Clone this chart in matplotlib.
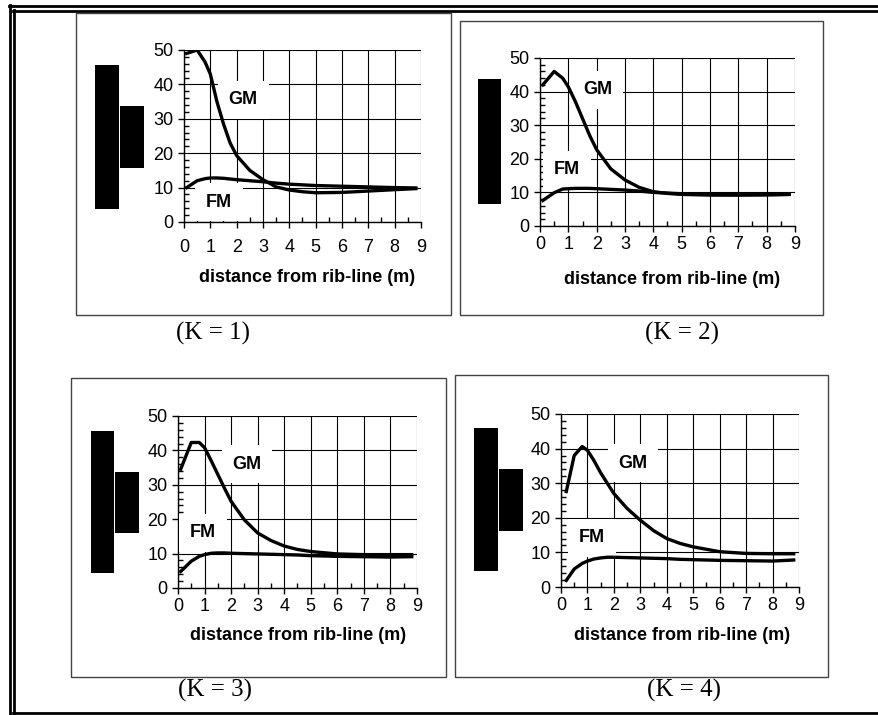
import matplotlib
matplotlib.use("Agg")
import matplotlib.pyplot as plt
from matplotlib.patches import Rectangle
from matplotlib.lines import Line2D
from matplotlib.ticker import MultipleLocator

plt.rcParams["font.family"] = ["Liberation Sans", "DejaVu Sans"]

W, H = 879, 715

# distance from rib-line (m)
dist = [0.1, 0.5, 0.8, 1.0, 1.25, 1.5, 1.75, 2.0, 2.5, 3.0, 3.5, 4.0, 4.5, 5.0, 6.0, 7.0, 8.0, 8.8]
dist_k4 = [0.2, 0.5, 0.8, 1.0, 1.25, 1.5, 1.75, 2.0, 2.5, 3.0, 3.5, 4.0, 4.5, 5.0, 6.0, 7.0, 8.0, 8.8]

gm_k1 = [49, 50, 46.5, 43, 35, 28.5, 23, 19.3, 15, 12.3, 10.2, 9.3, 8.8, 8.5, 8.6, 9.0, 9.4, 9.7]
fm_k1 = [10, 12, 12.6, 12.8, 12.8, 12.7, 12.5, 12.3, 12.0, 11.7, 11.3, 11.0, 10.8, 10.6, 10.4, 10.2, 10.0, 9.9]

gm_k2 = [42, 46, 44, 41.4, 37, 32, 27, 22.7, 17, 13.7, 11.5, 10.2, 9.7, 9.4, 9.2, 9.2, 9.3, 9.4]
fm_k2 = [7.6, 9.9, 11, 11.1, 11.2, 11.2, 11.2, 11.1, 10.9, 10.7, 10.4, 10.0, 9.8, 9.6, 9.4, 9.3, 9.3, 9.4]

gm_k3 = [34.5, 42.3, 42.3, 40.8, 37, 33, 29, 25.2, 19.8, 16, 13.8, 12.2, 11.2, 10.6, 9.9, 9.7, 9.7, 9.7]
fm_k3 = [4.8, 7.8, 9.2, 9.7, 10.1, 10.2, 10.2, 10.1, 10.0, 9.9, 9.8, 9.7, 9.6, 9.4, 9.2, 9.1, 9.0, 9.1]

gm_k4 = [27.6, 38, 40.6, 39.5, 36.5, 33, 30, 27, 22.7, 19.3, 16.3, 14.0, 12.6, 11.6, 10.2, 9.7, 9.6, 9.6]
fm_k4 = [1.9, 5.2, 6.8, 7.5, 8.1, 8.4, 8.6, 8.6, 8.5, 8.4, 8.3, 8.2, 8.0, 7.9, 7.7, 7.6, 7.5, 7.8]

k_labels = ["(K = 1)", "(K = 2)", "(K = 3)", "(K = 4)"]


def px_rect(x0, y0, x1, y1):
    """Pixel box (top-left origin) -> figure fraction [l, b, w, h]."""
    return [x0 / W, 1 - y1 / H, (x1 - x0) / W, (y1 - y0) / H]


def fig_box(fig, x0, y0, x1, y1, **kw):
    l, b, w, h = px_rect(x0, y0, x1, y1)
    fig.patches.append(Rectangle((l, b), w, h, transform=fig.transFigure, **kw))


def fig_hline(fig, x0, x1, y, lw):
    fig.lines.append(Line2D([x0 / W, x1 / W], [1 - y / H, 1 - y / H],
                            transform=fig.transFigure, color="black", lw=lw))


def fig_vline(fig, x, y0, y1, lw):
    fig.lines.append(Line2D([x / W, x / W], [1 - y0 / H, 1 - y1 / H],
                            transform=fig.transFigure, color="black", lw=lw))


panels = [
    dict(x=dist, gm=gm_k1, fm=fm_k1, ax=(184, 50, 421, 222), box=(76, 13, 451, 315),
         gm_at=(2.25, 35.5), fm_at=(1.33, 5.8), xpad=8.0, xlab=(307, 277), klab=(213, 333),
         blocks=[(95, 65, 119, 209), (120, 106, 144, 168)]),
    dict(x=dist, gm=gm_k2, fm=fm_k2, ax=(540, 58, 795, 226), box=(460, 21, 823, 315),
         gm_at=(2.05, 40.5), fm_at=(0.95, 16.7), xpad=2.5, xlab=(672, 279), klab=(682, 333),
         blocks=[(478, 79, 501, 204)]),
    dict(x=dist, gm=gm_k3, fm=fm_k3, ax=(178, 416, 417, 588), box=(71, 378, 446, 677),
         gm_at=(2.6, 36.0), fm_at=(0.94, 16.0), xpad=2.5, xlab=(298, 636), klab=(215, 690),
         blocks=[(91, 431, 114, 573), (115, 472, 139, 533)]),
    dict(x=dist_k4, gm=gm_k4, fm=fm_k4, ax=(561, 414, 799, 587), box=(455, 375, 828, 677),
         gm_at=(2.72, 35.8), fm_at=(1.17, 14.2), xpad=2.5, xlab=(682, 636), klab=(684, 690),
         blocks=[(474, 428, 498, 571), (499, 469, 523, 531)]),
]

fig = plt.figure(figsize=(W / 100, H / 100), dpi=100)

# double outer frame, open on the right
fig_hline(fig, 9, W, 6, 2.0)
fig_hline(fig, 13, W, 10.5, 2.0)
fig_vline(fig, 10, 5, H, 2.0)
fig_vline(fig, 14, 9.5, 713, 2.0)
fig_hline(fig, 13, W, 713, 2.0)

for p, klab in zip(panels, k_labels):
    bx0, by0, bx1, by1 = p["box"]
    fig_box(fig, bx0, by0, bx1, by1, fill=False, edgecolor="#444444", lw=1.0, zorder=0)
    for blk in p["blocks"]:
        fig_box(fig, *blk, facecolor="black", edgecolor="none", zorder=1)

    ax = fig.add_axes(px_rect(*p["ax"]))
    ax.set_xlim(0, 9)
    ax.set_ylim(0, 50)
    ax.xaxis.set_major_locator(MultipleLocator(1))
    ax.xaxis.set_minor_locator(MultipleLocator(0.5))
    ax.yaxis.set_major_locator(MultipleLocator(10))
    ax.yaxis.set_minor_locator(MultipleLocator(2))
    ax.grid(True, which="major", color="black", lw=0.8)
    for side in ["top", "right"]:
        ax.spines[side].set_visible(False)
    for side in ["left", "bottom"]:
        ax.spines[side].set_linewidth(1.0)
    ax.tick_params(axis="both", which="major", labelsize=13, width=1.0, length=4.5,
                   direction="out", colors="black")
    ax.tick_params(axis="x", which="major", pad=p["xpad"])
    ax.tick_params(axis="y", which="major", pad=3)
    ax.tick_params(axis="both", which="minor", direction="in", length=3.5, width=1.0)

    # curves sit above the white label boxes; the boxes only hide grid and axis lines
    ax.plot(p["x"], p["gm"], color="black", lw=2.4, solid_joinstyle="round", zorder=7)
    ax.plot(p["x"], p["fm"], color="black", lw=2.4, solid_joinstyle="round", zorder=7)

    box = dict(boxstyle="square,pad=0.6", facecolor="white", edgecolor="none")
    ax.text(*p["gm_at"], "GM", fontsize=13, fontweight="bold", ha="center", va="center",
            bbox=box, zorder=5, clip_on=False)
    ax.text(*p["fm_at"], "FM", fontsize=13, fontweight="bold", ha="center", va="center",
            bbox=box, zorder=5, clip_on=False)

    lx, ly = p["xlab"]
    fig.text(lx / W, 1 - ly / H, "distance from rib-line (m)", fontsize=13, fontweight="bold",
             ha="center", va="center")
    kx, ky = p["klab"]
    fig.text(kx / W, 1 - ky / H, klab, fontsize=18, family="Liberation Serif",
             ha="center", va="center")

fig.savefig("out.png", dpi=100, facecolor="white")
